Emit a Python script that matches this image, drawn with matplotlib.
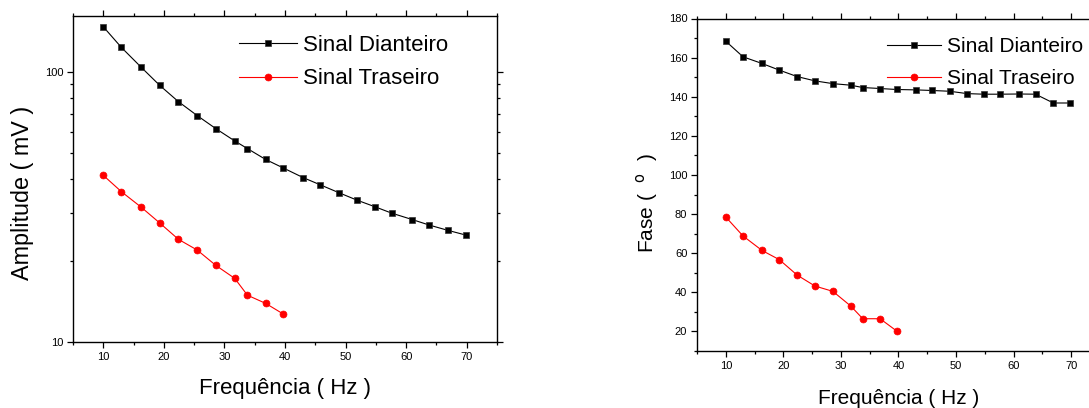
import numpy as np
import matplotlib
matplotlib.use("Agg")
import matplotlib.pyplot as plt
from matplotlib.ticker import FixedLocator, NullFormatter, MultipleLocator, LogLocator

plt.rcParams["font.family"] = ["Liberation Sans", "DejaVu Sans"]

# Frequency points (Hz)
freq = [10, 13, 16.3, 19.3, 22.4, 25.5, 28.6, 31.7, 33.8, 36.8, 39.7,
        43.0, 45.8, 48.9, 51.9, 54.8, 57.6, 61.0, 63.8, 66.9, 69.8]
freq_tras = freq[:11]

# Amplitude (mV)
amp_diant = [146.9, 123.1, 103.8, 89.2, 77.6, 68.9, 61.6, 55.5, 52.0, 47.4, 44.1,
             40.6, 38.2, 35.7, 33.5, 31.7, 30.0, 28.4, 27.1, 25.9, 24.9]
amp_tras = [41.4, 36.0, 31.5, 27.6, 24.0, 21.9, 19.2, 17.2, 14.9, 13.9, 12.7]

# Phase (degrees)
fase_diant = [168.4, 160.4, 157.0, 153.6, 150.3, 148.1, 146.7, 145.9, 144.7, 144.2, 143.7,
              143.5, 143.2, 142.8, 141.6, 141.3, 141.3, 141.4, 141.3, 136.8, 136.8]
fase_tras = [78.5, 68.8, 61.4, 56.7, 48.8, 43.2, 40.5, 33.0, 26.5, 26.5, 20.2]

W, H = 1089, 408
fig = plt.figure(figsize=(W / 100, H / 100), dpi=100)


def px_axes(x0, y0, x1, y1):
    return fig.add_axes([x0 / W, 1 - y1 / H, (x1 - x0) / W, (y1 - y0) / H])


def style_axes(ax):
    for s in ax.spines.values():
        s.set_linewidth(1.0)
    ax.tick_params(which="both", direction="out", top=True, right=True,
                   labelsize=8, width=0.9, pad=3)
    ax.tick_params(which="major", length=4)
    ax.tick_params(which="minor", length=2.5)


def draw(ax, y1, y2):
    ax.plot(freq, y1, color="black", lw=0.8, marker="s", ms=4.5,
            mec="#333333", mew=0.5, label="Sinal Dianteiro")
    ax.plot(freq_tras, y2, color="red", lw=0.8, marker="o", ms=5,
            mec="red", mew=0.5, label="Sinal Traseiro")


# left: amplitude (log scale)
ax1 = px_axes(73, 16, 497, 342)
draw(ax1, amp_diant, amp_tras)
ax1.set_yscale("log")
ax1.set_ylim(10, 161)
ax1.set_xlim(5, 75)
ax1.xaxis.set_major_locator(MultipleLocator(10))
ax1.xaxis.set_minor_locator(MultipleLocator(5))
ax1.yaxis.set_major_locator(FixedLocator([10, 100]))
ax1.yaxis.set_major_formatter(plt.FormatStrFormatter("%d"))
ax1.yaxis.set_minor_locator(LogLocator(base=10, subs=np.arange(2, 10)))
ax1.yaxis.set_minor_formatter(NullFormatter())
style_axes(ax1)
ax1.set_xlabel("Frequência ( Hz )", fontsize=16, labelpad=12)
ax1.set_ylabel("Amplitude ( mV )", fontsize=16.8)
ax1.yaxis.set_label_coords(-0.093, 0.457)
ax1.legend(loc="upper left", bbox_to_anchor=(0.37, 0.97), frameon=False,
           fontsize=16, handlelength=2.6, handletextpad=0.3,
           labelspacing=0.57, borderaxespad=0)

# right: phase
ax2 = px_axes(697, 18.5, 1100, 351)
draw(ax2, fase_diant, fase_tras)
ax2.set_ylim(10, 180)
ax2.set_xlim(5, 75)
ax2.xaxis.set_major_locator(MultipleLocator(10))
ax2.xaxis.set_minor_locator(MultipleLocator(5))
ax2.yaxis.set_major_locator(MultipleLocator(20))
ax2.yaxis.set_minor_locator(MultipleLocator(10))
ax2.set_yticks([20, 40, 60, 80, 100, 120, 140, 160, 180])
style_axes(ax2)
ax2.set_xlabel("Frequência ( Hz )", fontsize=15, labelpad=13)
ax2.set_ylabel("Fase (  $^{\\rm o}$  )", fontsize=15)
ax2.yaxis.set_label_coords(-0.091, 0.445)
ax2.legend(loc="upper left", bbox_to_anchor=(0.45, 0.97), frameon=False,
           fontsize=15, handlelength=2.6, handletextpad=0.3,
           labelspacing=0.65, borderaxespad=0)

fig.savefig("out.png", dpi=100)
